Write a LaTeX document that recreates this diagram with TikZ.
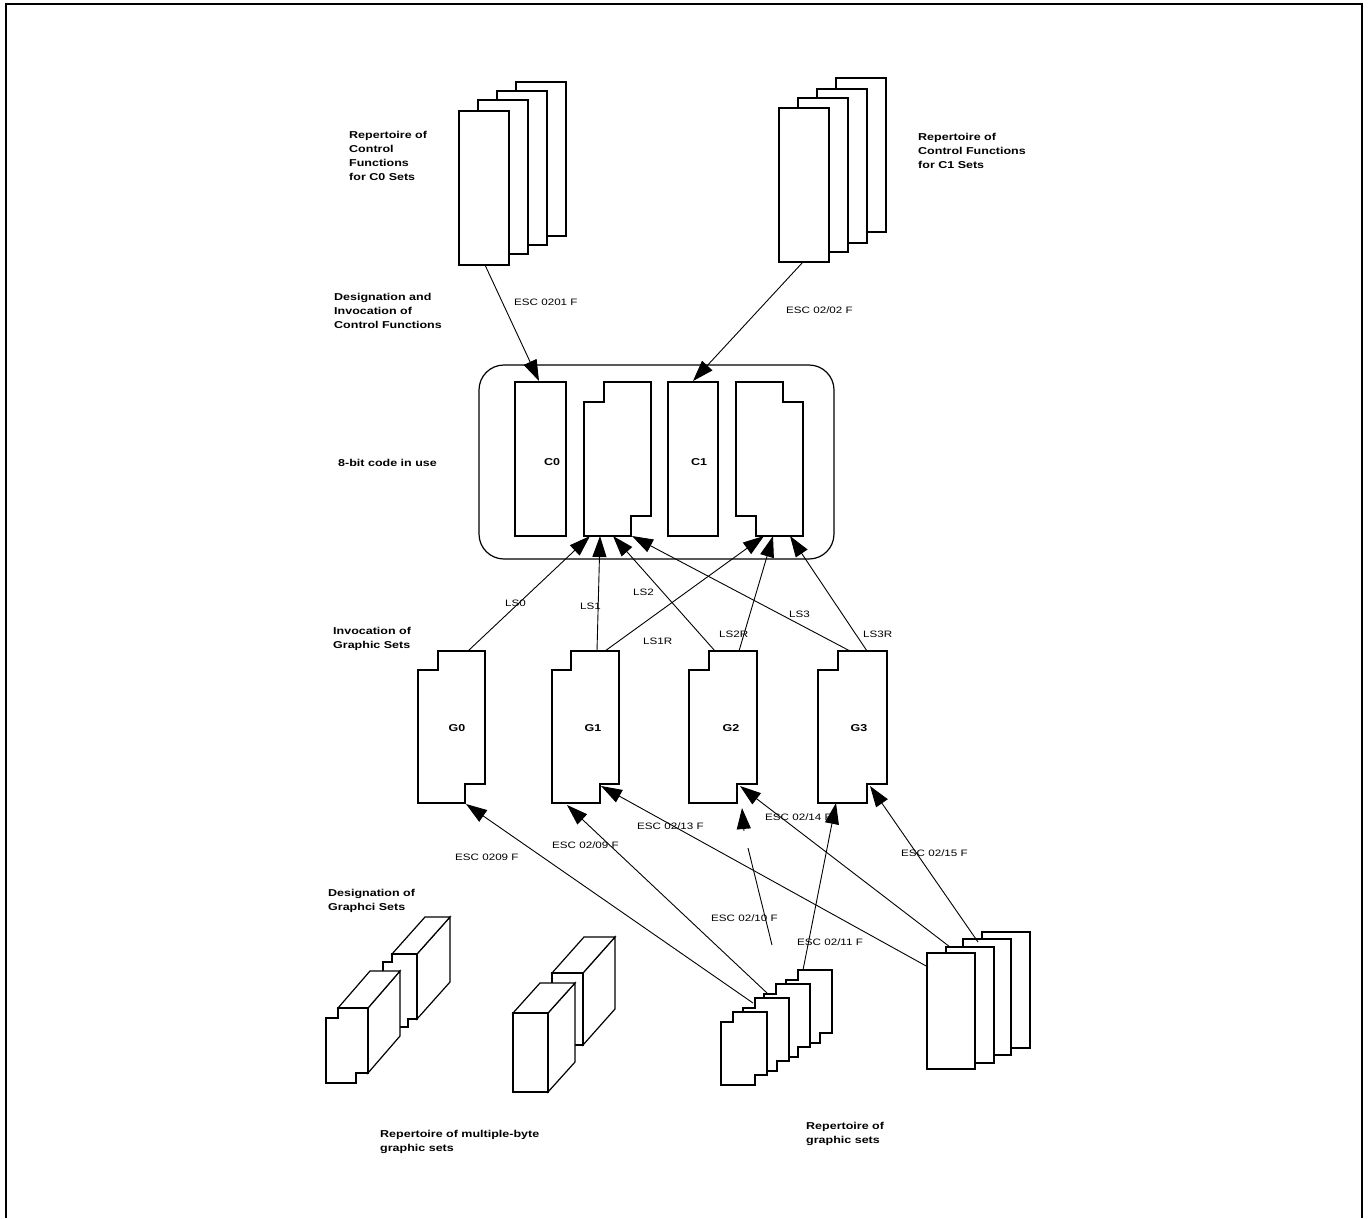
\documentclass[tikz,border=0pt]{standalone}
\usepackage{fontspec}
\setmainfont{Liberation Sans}
\newfontfamily\hfont[FakeStretch=1.25]{Liberation Sans}
\usetikzlibrary{arrows.meta}
% stepped set outline, notches top-left and bottom-right: L T R B a b
\newcommand\gsetL[6]{\draw[box] (#1,#2+#6) -- (#1+#5,#2+#6) -- (#1+#5,#2) -- (#3,#2) -- (#3,#4-#6) -- (#3-#5,#4-#6) -- (#3-#5,#4) -- (#1,#4) -- cycle;}
% mirrored: notches top-right and bottom-left
\newcommand\gsetR[6]{\draw[box] (#1,#2) -- (#3-#5,#2) -- (#3-#5,#2+#6) -- (#3,#2+#6) -- (#3,#4) -- (#1+#5,#4) -- (#1+#5,#4-#6) -- (#1,#4-#6) -- cycle;}
% 3D slab: L T R B dx dy a b
\newcommand\slab[8]{%
 \draw[box] (#3,#2) -- (#3+#5,#2+#6) -- (#3+#5,#4-#8+#6) -- (#3,#4-#8) -- cycle;
 \draw[box] (#1+#7,#2) -- (#1+#7+#5,#2+#6) -- (#3+#5,#2+#6) -- (#3,#2) -- cycle;
 \draw[box] (#1,#2+#8) -- (#1+#7,#2+#8) -- (#1+#7,#2) -- (#3,#2) -- (#3,#4-#8) -- (#3-#7,#4-#8) -- (#3-#7,#4) -- (#1,#4) -- cycle;}
\begin{document}
\begin{tikzpicture}[x=1pt,y=-1pt,
  box/.style={line width=1.2pt,fill=white,line join=miter},
  conn/.style={line width=0.9pt},
  arr/.style={conn,-{Triangle[length=21pt,width=14pt]}},
  head/.style={font=\hfont\bfseries\fontsize{10}{14}\selectfont,align=left,inner sep=0pt,anchor=west},
  lbl/.style={font=\hfont\fontsize{9.3}{11}\selectfont,inner sep=0pt,anchor=west},
  setname/.style={font=\hfont\bfseries\fontsize{10}{12}\selectfont,inner sep=0pt}]
\useasboundingbox (0,0) rectangle (1370,1218);
% frame
\draw[line width=2pt] (6,1218) -- (6,4.3) -- (1361.7,4.3) -- (1361.7,1218);

% ---- top repertoires
\foreach \x/\y in {516/82,497/91,478/100,459/111} \draw[box] (\x,\y) rectangle ++(50,154);
\foreach \x/\y in {836/78,817/89,798/98,779/108} \draw[box] (\x,\y) rectangle ++(50,154);

% ---- 8-bit code in use
\draw[line width=1.2pt,rounded corners=25pt] (479,365) rectangle (834,559);
\draw[box] (515,382) rectangle (566,536);
\node[setname] (C0) at (552,462) {C0};
\gsetL{584}{382}{651}{536}{20}{20}
\draw[box] (668,382) rectangle (718,536);
\node[setname] (C1) at (699,462) {C1};
\gsetR{736}{382}{803}{536}{20}{20}

% ---- G0..G3
\gsetL{418}{651}{485}{803}{20}{19}
\gsetL{552}{651}{619}{803}{19}{19}
\gsetL{689}{651}{757}{803}{20}{19}
\gsetL{818}{651}{887}{803}{20}{19}
\node[setname] (G0) at (457,728) {G0};
\node[setname] (G1) at (593,728) {G1};
\node[setname] (G2) at (731,728) {G2};
\node[setname] (G3) at (859,728) {G3};

% ---- multiple-byte 3D sets
\slab{383}{954}{417}{1027}{33}{-37}{9}{8}
\slab{326}{1008}{368}{1083}{32}{-37}{12}{10}
\slab{552}{973}{583}{1045}{32}{-36}{0}{0}
\slab{513}{1013}{548}{1092}{27}{-30}{0}{0}

% ---- repertoire of graphic sets (stepped stack)
\gsetL{786}{970}{832}{1043}{12}{10}
\gsetL{764}{984}{810}{1057}{12}{10}
\gsetL{743}{998}{789}{1071}{12}{10}
\gsetL{721}{1012}{767}{1085}{12}{10}

% ---- right stack
\foreach \x/\y in {982/932,963/939,946/947,927/953} \draw[box] (\x,\y) rectangle ++(48,116);

% ---- named end points
\coordinate (c0src) at (485,265);  \coordinate (c0dst) at (539,381);
\coordinate (c1src) at (803,262);  \coordinate (c1dst) at (693,381);
\coordinate (g0t) at (468,651);  \coordinate (gl0) at (590,536);
\coordinate (g1t) at (597,651);  \coordinate (gl1) at (600,536);
\coordinate (g2t) at (715,651);  \coordinate (gl2) at (613,536);
\coordinate (g3t) at (850,651);  \coordinate (gl3) at (632,536);
\coordinate (g1tr) at (605,651); \coordinate (gr1) at (764,536);
\coordinate (g2tr) at (739,651); \coordinate (gr2) at (773,536);
\coordinate (g3tr) at (867,651); \coordinate (gr3) at (790,536);
\coordinate (s09) at (753,1003); \coordinate (g0b) at (466,804);
\coordinate (s29) at (767,993);  \coordinate (g1b) at (567,805);
\coordinate (r13) at (928,967);  \coordinate (g1n) at (601,786);
\coordinate (s10a) at (772,945); \coordinate (s10b) at (748,848);
\coordinate (s10c) at (744,831); \coordinate (g2b) at (742,808);
\coordinate (s11) at (803,970);  \coordinate (g3b) at (836,803);
\coordinate (r14) at (950,947);  \coordinate (g2n) at (740,786);
\coordinate (r15) at (978,942);  \coordinate (g3n) at (870,786);

% ---- connectors
\draw[arr] (c0src) -- (c0dst);
\draw[arr] (c1src) -- (c1dst);
\draw[arr] (g0t) -- (gl0);
\draw[arr] (g1t) -- (gl1);
\draw[arr] (g2t) -- (gl2);
\draw[arr] (g3t) -- (gl3);
\draw[arr] (g1tr) -- (gr1);
\draw[arr] (g2tr) -- (gr2);
\draw[arr] (g3tr) -- (gr3);
\draw[arr] (s09) -- (g0b);
\draw[arr] (s29) -- (g1b);
\draw[arr] (r13) -- (g1n);
\draw[conn] (s10a) -- (s10b);
\draw[arr] (s10c) -- (g2b);
\draw[arr] (s11) -- (g3b);
\draw[arr] (r14) -- (g2n);
\draw[arr] (r15) -- (g3n);

% ---- headings
\node[head] (hC0rep) at (349,156) {Repertoire of\\Control\\Functions\\for C0 Sets};
\node[head] (hC1rep) at (918,151) {Repertoire of\\Control Functions\\for C1 Sets};
\node[head] (hdes) at (334,311) {Designation and\\Invocation of\\Control Functions};
\node[head] (h8bit) at (338,463) {8-bit code in use};
\node[head] (hinv) at (333,639) {Invocation of\\Graphic Sets};
\node[head] (hdesg) at (328,901) {Designation of\\Graphci Sets};
\node[head] (hmb) at (380,1142) {Repertoire of multiple-byte\\graphic sets};
\node[head] (hgs) at (806,1134) {Repertoire of\\graphic sets};

% ---- labels
\node[lbl] (l0201) at (514,302) {ESC 0201 F};
\node[lbl] (l0202) at (786,310) {ESC 02/02 F};
\node[lbl] (ls0) at (505,603) {LS0};
\node[lbl] (ls1) at (580,606) {LS1};
\node[lbl] (ls2) at (633,592) {LS2};
\node[lbl] (ls1r) at (643,641) {LS1R};
\node[lbl] (ls2r) at (719,634) {LS2R};
\node[lbl] (ls3) at (789,614) {LS3};
\node[lbl] (ls3r) at (863,634) {LS3R};
\node[lbl] (l0209) at (455,857) {ESC 0209 F};
\node[lbl] (l0209b) at (552,845) {ESC 02/09 F};
\node[lbl] (l0213) at (637,826) {ESC 02/13 F};
\node[lbl] (l0214) at (765,817) {ESC 02/14 F};
\node[lbl] (l0215) at (901,853) {ESC 02/15 F};
\node[lbl] (l0210) at (711,918) {ESC 02/10 F};
\node[lbl] (l0211) at (797,942) {ESC 02/11 F};
\end{tikzpicture}
\end{document}
